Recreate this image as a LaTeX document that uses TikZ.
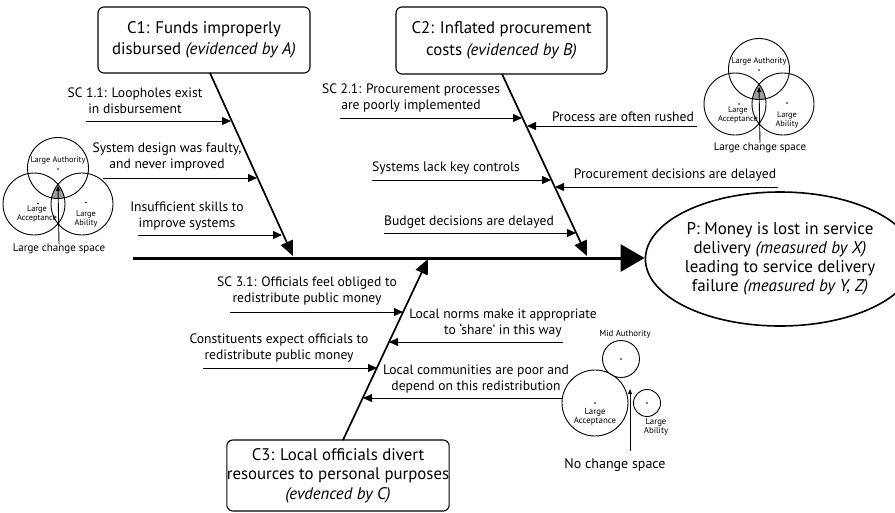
\documentclass[tikz,border=0pt]{standalone}
\usepackage{fontspec}
\setmainfont{PT Sans}
\usetikzlibrary{arrows.meta,shapes.geometric}
\tikzset{
  box/.style={draw,line width=1.1pt,rounded corners=6pt,align=center,inner sep=0pt,
    font=\fontsize{16.8}{21.5}\selectfont},
  lab/.style={align=center,inner sep=0pt,font=\fontsize{13.6}{16}\selectfont},
  vlab/.style={align=center,inner sep=0pt,font=\fontsize{8.3}{9}\selectfont},
  spine/.style={line width=3pt,-{Triangle[length=24pt,width=27pt]}},
  bone/.style={line width=1.7pt,-{Triangle[length=15pt,width=13pt]}},
  sub/.style={line width=1pt,-{Triangle[length=9pt,width=8pt]}},
  thin/.style={line width=0.9pt,-{Triangle[length=5pt,width=4pt]}},
  circ/.style={line width=0.9pt},
}
\begin{document}
\begin{tikzpicture}[x=1pt,y=-1pt]
\useasboundingbox (0,0) rectangle (895,512);
% main nodes
\node[box,minimum width=212pt,minimum height=66pt] (C1) at (204,40)
  {C1: Funds improperly\\disbursed \textit{(evidenced by A)}};
\node[box,minimum width=211pt,minimum height=67pt] (C2) at (501.5,40.5)
  {C2: Inflated procurement\\costs \textit{(evidenced by B)}};
\node[box,minimum width=222pt,minimum height=71pt,font=\fontsize{16.8}{19.5}\selectfont] (C3) at (338,475.5)
  {C3: Local officials divert\\resources to personal purposes\\\textit{(evdenced by C)}};
\node[draw,ellipse,line width=1.6pt,minimum width=220pt,minimum height=134pt,inner sep=0pt,
  align=center,font=\fontsize{17}{19}\selectfont] (P) at (780,259)
  {P: Money is lost in service\\delivery \textit{(measured by X)}\\leading to service delivery\\failure \textit{(measured by Y, Z)}};
% spine
\coordinate (spL) at (133,258);
\draw[spine] (spL) -- (P.west |- spL);
% bones
\coordinate (c1s) at (210,73);  \coordinate (c1e) at (293,256);
\coordinate (c2s) at (502,74);  \coordinate (c2e) at (587,256);
\coordinate (c3s) at (343,440); \coordinate (c3e) at (428,259);
\draw[bone] (c1s) -- (c1e);
\draw[bone] (c2s) -- (c2e);
\draw[bone] (c3s) -- (c3e);
% C1 sub causes
\node[lab] (l11) at (135,101) {SC 1.1: Loopholes exist\\in disbursement};
\coordinate (a11s) at (86,121); \coordinate (a11e) at (231,121);
\draw[sub] (a11s) -- (a11e);
\node[lab] (l12) at (167,157) {System design was faulty,\\and never improved};
\coordinate (a12s) at (103,178); \coordinate (a12e) at (257,178);
\draw[sub] (a12s) -- (a12e);
\node[lab] (l13) at (187,216) {Insufficient skills to\\improve systems};
\coordinate (a13s) at (138,235); \coordinate (a13e) at (282,235);
\draw[sub] (a13s) -- (a13e);
% C2 sub causes
\node[lab] (l21) at (411,98) {SC 2.1: Procurement processes\\are poorly implemented};
\coordinate (a21s) at (340,118); \coordinate (a21e) at (522,118);
\draw[sub] (a21s) -- (a21e);
\node[lab] (l22) at (446,168) {Systems lack key controls};
\coordinate (a22s) at (372,180); \coordinate (a22e) at (551,180);
\draw[sub] (a22s) -- (a22e);
\node[lab] (l23) at (469,222) {Budget decisions are delayed};
\coordinate (a23s) at (384,233); \coordinate (a23e) at (576,233);
\draw[sub] (a23s) -- (a23e);
\node[lab] (r21) at (623,117) {Process are often rushed};
\coordinate (b21s) at (697,126); \coordinate (b21e) at (527,126);
\draw[sub] (b21s) -- (b21e);
\node[lab] (r22) at (675,175) {Procurement decisions are delayed};
\coordinate (b22s) at (778,187); \coordinate (b22e) at (555,187);
\draw[sub] (b22s) -- (b22e);
% C3 sub causes
\node[lab] (l31) at (307,291) {SC 3.1: Officials feel obliged to\\redistribute public money};
\coordinate (a31s) at (230,312); \coordinate (a31e) at (403,312);
\draw[sub] (a31s) -- (a31e);
\node[lab] (l32) at (279,348) {Constituents expect officials to\\redistribute public money};
\coordinate (a32s) at (203,368); \coordinate (a32e) at (377,368);
\draw[sub] (a32s) -- (a32e);
\node[lab] (r31) at (503,323) {Local norms make it appropriate\\to ‘share’ in this way};
\coordinate (b31s) at (563,342); \coordinate (b31e) at (389,342);
\draw[sub] (b31s) -- (b31e);
\node[lab] (r32) at (476,379) {Local communities are poor and\\depend on this redistribution};
\coordinate (b32s) at (563,398); \coordinate (b32e) at (363,398);
\draw[sub] (b32s) -- (b32e);
% left Venn
\coordinate (vAu) at (58,168); \coordinate (vAc) at (34,204); \coordinate (vAb) at (82,204);
\begin{scope}
  \clip (vAu) circle[radius=30.5pt];
  \clip (vAc) circle[radius=31pt];
  \fill[gray!75] (vAb) circle[radius=31pt];
\end{scope}
\draw[circ] (vAu) circle[radius=30.5pt] (vAc) circle[radius=31pt] (vAb) circle[radius=31pt];
\fill (58,169) circle[radius=0.8pt] (38,203.5) circle[radius=0.8pt] (86,202.5) circle[radius=0.8pt];
\node[vlab] (vlAu) at (58,160.5) {Large Authority};
\node[vlab] (vlAc) at (37,214) {Large\\Acceptance};
\node[vlab] (vlAb) at (86,219) {Large\\Ability};
\node[inner sep=0pt,font=\fontsize{11}{12}\selectfont] (vlc) at (59,249) {Large change space};
\coordinate (vtip) at (58,186);
\draw[thin] (vlc.north) -- (vtip);
% right Venn
\coordinate (wAu) at (759,69); \coordinate (wAc) at (735,104); \coordinate (wAb) at (783,104);
\begin{scope}
  \clip (wAu) circle[radius=30.5pt];
  \clip (wAc) circle[radius=31pt];
  \fill[gray!75] (wAb) circle[radius=31pt];
\end{scope}
\draw[circ] (wAu) circle[radius=30.5pt] (wAc) circle[radius=31pt] (wAb) circle[radius=31pt];
\fill (759,70) circle[radius=0.8pt] (739,104) circle[radius=0.8pt] (787,103) circle[radius=0.8pt];
\node[vlab] (wlAu) at (759,61) {Large Authority};
\node[vlab] (wlAc) at (738,114.5) {Large\\Acceptance};
\node[vlab] (wlAb) at (787,119.5) {Large\\Ability};
\node[inner sep=0pt,font=\fontsize{11}{12}\selectfont] (wlc) at (760,148) {Large change space};
\coordinate (wtip) at (759,87);
\draw[thin] (wlc.north) -- (wtip);
% bottom-right circles
\coordinate (xAu) at (621,359); \coordinate (xAc) at (595,403); \coordinate (xAb) at (647,403);
\draw[circ] (xAu) circle[radius=18.5pt] (xAc) circle[radius=33pt] (xAb) circle[radius=13.5pt];
\fill (xAu) circle[radius=0.8pt] (xAc) circle[radius=0.8pt] (xAb) circle[radius=0.8pt];
\node[vlab,font=\fontsize{8.8}{9}\selectfont] (xlAu) at (625,334) {Mid Authority};
\node[vlab,font=\fontsize{8.8}{9}\selectfont] (xlAc) at (595,417) {Large\\Acceptance};
\node[vlab,font=\fontsize{8.8}{9}\selectfont] (xlAb) at (656,427) {Large\\Ability};
\node[inner sep=0pt,font=\fontsize{14}{15}\selectfont] (xlc) at (615,465) {No change space};
\coordinate (xs) at (630,451); \coordinate (xtip) at (630,389);
\draw[thin] (xs) -- (xtip);
\end{tikzpicture}
\end{document}
